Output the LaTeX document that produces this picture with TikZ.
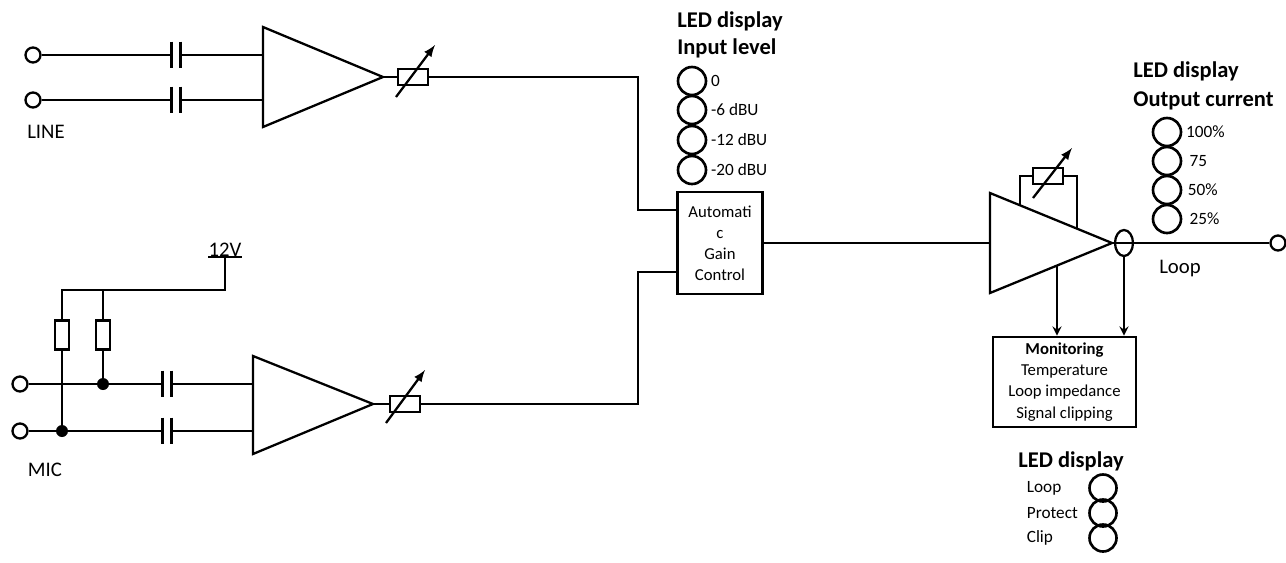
\documentclass[tikz,border=0pt]{standalone}
\usepackage{fontspec}
\setmainfont{Carlito}
\usepackage{tikz}
\usetikzlibrary{arrows, positioning, calc, shapes}

\tikzset{
  wire/.style={line width=1.3pt},
  varr/.style={line width=1.3pt, -latex},
  term/.style={draw, circle, line width=1.3pt, fill=white, minimum size=3mm, inner sep=0pt},
  capa/.style={minimum width=1.6mm, minimum height=5.2mm, inner sep=0pt,
    append after command={(\tikzlastnode.north west) edge[line width=1.6pt] (\tikzlastnode.south west)
      (\tikzlastnode.north east) edge[line width=1.6pt] (\tikzlastnode.south east)}},
  res/.style={draw, rectangle, line width=1.3pt, minimum width=6mm, minimum height=3.2mm, inner sep=0pt},
  vres/.style={draw, rectangle, line width=1.3pt, minimum width=2.8mm, minimum height=5.8mm, inner sep=0pt},
  dot/.style={fill, circle, minimum size=2.4mm, inner sep=0pt},
  led/.style={draw, circle, line width=1.5pt, minimum size=5.6mm, inner sep=0pt},
  block/.style={draw, rectangle, line width=1.6pt, align=center, inner sep=2pt, font=\fontsize{9.5}{12}\selectfont},
  ledtitle/.style={font=\fontsize{12.8}{15}\selectfont\bfseries, inner sep=0pt},
  ledtext/.style={font=\fontsize{9.8}{12}\selectfont, inner sep=2pt},
  biglabel/.style={font=\fontsize{11.8}{14}\selectfont, inner sep=0pt},
}

\begin{document}
\begin{tikzpicture}[x=0.02cm, y=-0.02cm]

\useasboundingbox (0,0) rectangle (1286,562);

% LINE input
\node[term] (l1) at (33,55) {};
\node[term] (l2) at (33,100) {};
\node[capa] (c1) at (176,55) {};
\node[capa] (c2) at (176,100) {};
\coordinate (a1i1) at (263,55);
\coordinate (a1i2) at (263,100);
\coordinate (a1o) at (383,77);
\draw[wire] (263,27) -- (a1o) -- (263,127) -- cycle;
\draw[wire] (l1) -- (c1) -- (a1i1);
\draw[wire] (l2) -- (c2) -- (a1i2);
\node[res] (r1) at (413,77) {};
\draw[wire] (a1o) -- (r1);
\draw[varr] ($(r1)+(-17,20)$) -- ($(r1)+(22,-32)$);
\node[biglabel, anchor=base] (line) at (46,138) {LINE};

% MIC input
\node[term] (m1) at (20,384) {};
\node[term] (m2) at (20,431) {};
\node[capa] (c3) at (167,384) {};
\node[capa] (c4) at (167,431) {};
\coordinate (a2i1) at (253,384);
\coordinate (a2i2) at (253,431);
\coordinate (a2o) at (373,404);
\draw[wire] (253,356) -- (a2o) -- (253,454) -- cycle;
\draw[wire] (m1) -- (c3) -- (a2i1);
\draw[wire] (m2) -- (c4) -- (a2i2);
\node[res] (r2) at (405,404) {};
\draw[wire] (a2o) -- (r2);
\draw[varr] ($(r2)+(-19,19)$) -- ($(r2)+(20,-34)$);
\node[biglabel, anchor=base] (mic) at (45,476) {MIC};

% phantom supply
\node[biglabel, anchor=south] (vcc) at (225,257) {12V};
\draw[line width=0.9pt] (vcc.south west) -- (vcc.south east);
\coordinate (rail) at (225,290);
\node[vres] (rb1) at (62,335) {};
\node[vres] (rb2) at (103,335) {};
\draw[wire] (vcc.south) -- (rail) -- (62,290) -- (rb1.north);
\draw[wire] (103,290) -- (rb2.north);
\node[dot] (d1) at (103,384) {};
\node[dot] (d2) at (62,431) {};
\draw[wire] (rb1.south) -- (d2);
\draw[wire] (rb2.south) -- (d1);

% gain control
\node[block, minimum width=1.7cm, minimum height=2.04cm] (agc) at (720,243) {Automati\\c\\Gain\\Control};
\coordinate (j1) at (638,210);
\coordinate (j2) at (638,272);
\draw[wire] (r1) -| (j1) -- (j1 -| agc.west);
\draw[wire] (r2) -| (j2) -- (j2 -| agc.west);

% output amplifier
\coordinate (a3i) at (990,243);
\coordinate (a3o) at (1112,243);
\draw[wire] (990,193) -- (a3o) -- (990,293) -- cycle;
\draw[wire] (agc.east) -- (a3i);
\node[res] (r3) at (1048,176) {};
\draw[wire] (r3.west) -| (1020,205.3);
\draw[wire] (r3.east) -| (1077,228.7);
\draw[varr] ($(r3)+(-15,22)$) -- ($(r3)+(24,-28)$);
\node[term] (out) at (1278,243) {};
\draw[wire] (a3o) -- (out);
\node[draw, ellipse, line width=1.3pt, minimum width=3.6mm, minimum height=5.2mm, inner sep=0pt] (ct) at (1124,243) {};
\node[biglabel, anchor=base] (loop) at (1180,273) {Loop};

% monitoring
\node[block, minimum width=2.86cm, minimum height=1.8cm] (mon) at (1064.5,382)
  {\textbf{Monitoring}\\Temperature\\Loop impedance\\Signal clipping};
\coordinate (a3b) at (1057,265.5);
\draw[wire, -stealth] (a3b) -- (a3b |- mon.north);
\draw[wire, -stealth] (ct.south) -- (ct.south |- mon.north);

% LED display input level
\node[ledtitle, anchor=base west] (intitle) at (677,27) {LED display};
\node[ledtitle, anchor=base west] (inlevel) at (677,54) {Input level};
\node[led] (in0) at (692,81) {};
\node[led] (in6) at (692,110) {};
\node[led] (in12) at (692,140) {};
\node[led] (in20) at (692,170) {};
\node[ledtext, right] at (in0.east) {0};
\node[ledtext, right] at (in6.east) {-6 dBU};
\node[ledtext, right] at (in12.east) {-12 dBU};
\node[ledtext, right] at (in20.east) {-20 dBU};

% LED display output current
\node[ledtitle, anchor=base west] (outtitle) at (1133,77) {LED display};
\node[ledtitle, anchor=base west] (outcur) at (1133,106) {Output current};
\node[led] (o100) at (1167,132) {};
\node[led] (o75) at (1167,161) {};
\node[led] (o50) at (1167,190) {};
\node[led] (o25) at (1167,219) {};
\node[ledtext, right] at (o100.east) {100\%};
\node[ledtext, right, xshift=2pt] at (o75.east) {75};
\node[ledtext, right, xshift=1pt] at (o50.east) {50\%};
\node[ledtext, right, xshift=2pt] at (o25.east) {25\%};

% LED display status
\node[ledtitle, anchor=base] (sttitle) at (1071,467) {LED display};
\node[led, minimum size=5.4mm] (sloop) at (1103,488) {};
\node[led, minimum size=5.4mm] (sprot) at (1103,513) {};
\node[led, minimum size=5.4mm] (sclip) at (1103,538) {};
\node[ledtext, anchor=west] at (1023,488) {Loop};
\node[ledtext, anchor=west] at (1023,513) {Protect};
\node[ledtext, anchor=west] at (1023,538) {Clip};

\end{tikzpicture}
\end{document}
